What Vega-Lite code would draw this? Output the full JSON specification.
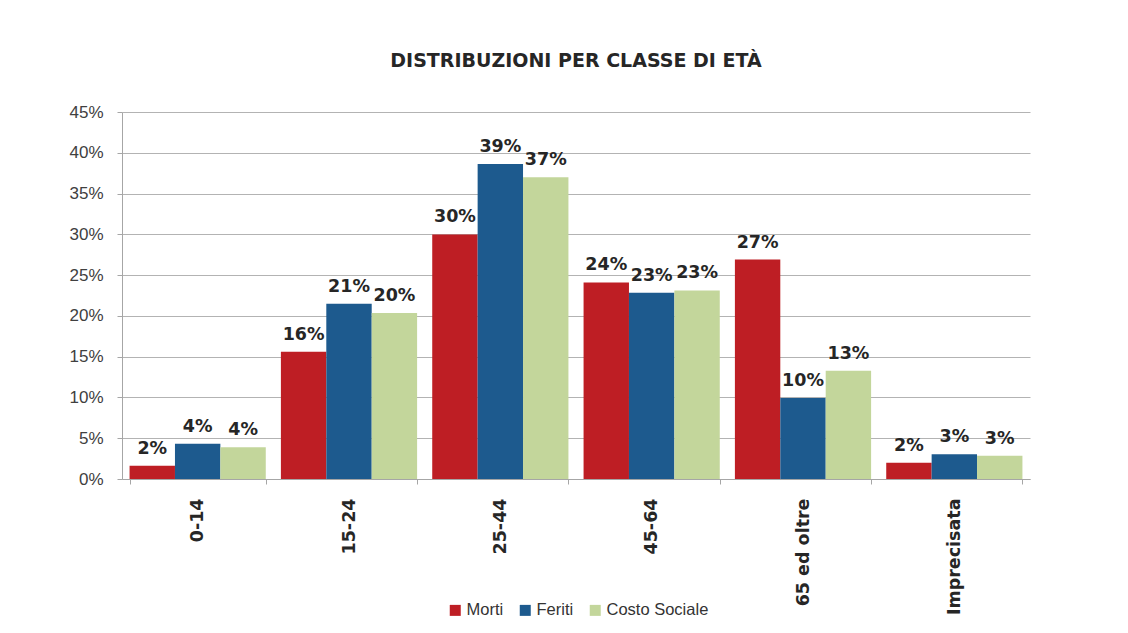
{
  "$schema": "https://vega.github.io/schema/vega-lite/v6.json",
  "autosize": "none",
  "width": 908,
  "height": 367,
  "padding": {"left": 122, "top": 112, "right": 98, "bottom": 154},
  "background": "white",
  "title": {
    "text": "DISTRIBUZIONI PER CLASSE DI ETÀ",
    "anchor": "middle",
    "font": "DejaVu Sans",
    "fontSize": 19,
    "fontWeight": "bold",
    "color": "#262626",
    "offset": 32
  },
  "config": {
    "view": {"stroke": null},
    "axis": {"domainColor": "#a6a6a6", "tickColor": "#a6a6a6", "gridColor": "#b3b3b3"}
  },
  "data": {
    "values": [
      {"classe": "0-14", "serie": "Morti", "valore": 0.0163},
      {"classe": "0-14", "serie": "Feriti", "valore": 0.0432},
      {"classe": "0-14", "serie": "Costo Sociale", "valore": 0.0388},
      {"classe": "15-24", "serie": "Morti", "valore": 0.156},
      {"classe": "15-24", "serie": "Feriti", "valore": 0.2149},
      {"classe": "15-24", "serie": "Costo Sociale", "valore": 0.2034},
      {"classe": "25-44", "serie": "Morti", "valore": 0.2998},
      {"classe": "25-44", "serie": "Feriti", "valore": 0.3863},
      {"classe": "25-44", "serie": "Costo Sociale", "valore": 0.370},
      {"classe": "45-64", "serie": "Morti", "valore": 0.241},
      {"classe": "45-64", "serie": "Feriti", "valore": 0.2283},
      {"classe": "45-64", "serie": "Costo Sociale", "valore": 0.2312},
      {"classe": "65 ed oltre", "serie": "Morti", "valore": 0.269},
      {"classe": "65 ed oltre", "serie": "Feriti", "valore": 0.0992},
      {"classe": "65 ed oltre", "serie": "Costo Sociale", "valore": 0.1327},
      {"classe": "Imprecisata", "serie": "Morti", "valore": 0.020},
      {"classe": "Imprecisata", "serie": "Feriti", "valore": 0.0303},
      {"classe": "Imprecisata", "serie": "Costo Sociale", "valore": 0.0286}
    ]
  },
  "encoding": {
    "x": {
      "field": "classe",
      "type": "nominal",
      "sort": ["0-14", "15-24", "25-44", "45-64", "65 ed oltre", "Imprecisata"],
      "scale": {"paddingInner": 0.1, "paddingOuter": 0.05},
      "axis": {
        "title": null,
        "labelAngle": -90,
        "labelAlign": "right",
        "labelBaseline": "middle",
        "labelFont": "DejaVu Sans",
        "labelFontSize": 17.5,
        "labelFontWeight": "bold",
        "labelColor": "#262626",
        "labelPadding": 14,
        "tickSize": 5,
        "tickBand": "extent",
        "domainColor": "#a6a6a6",
        "grid": false
      }
    },
    "xOffset": {
      "field": "serie",
      "type": "nominal",
      "sort": ["Morti", "Feriti", "Costo Sociale"]
    },
    "y": {
      "field": "valore",
      "type": "quantitative",
      "scale": {"domain": [0, 0.45], "nice": false},
      "axis": {
        "title": null,
        "values": [0, 0.05, 0.1, 0.15, 0.2, 0.25, 0.3, 0.35, 0.4, 0.45],
        "format": ".0%",
        "labelFont": "Liberation Sans",
        "labelFontSize": 17,
        "labelColor": "#404040",
        "labelPadding": 14,
        "tickSize": 5,
        "grid": true,
        "gridColor": "#b3b3b3",
        "domainColor": "#a6a6a6"
      }
    }
  },
  "layer": [
    {
      "mark": {"type": "bar"},
      "encoding": {
        "color": {
          "field": "serie",
          "type": "nominal",
          "scale": {
            "domain": ["Morti", "Feriti", "Costo Sociale"],
            "range": ["#be1e24", "#1d5a8e", "#c3d69b"]
          },
          "legend": {
            "title": null,
            "orient": "none",
            "direction": "horizontal",
            "legendX": 325,
            "legendY": 490,
            "symbolType": "square",
            "symbolSize": 121,
            "symbolStrokeWidth": 0,
            "labelFont": "Liberation Sans",
            "labelFontSize": 16.5,
            "labelColor": "#333333",
            "labelOffset": 3,
            "columnPadding": 13
          }
        }
      }
    },
    {
      "mark": {
        "type": "text",
        "baseline": "alphabetic",
        "dy": -12,
        "font": "DejaVu Sans",
        "fontSize": 17.5,
        "fontWeight": "bold",
        "color": "#262626"
      },
      "encoding": {
        "text": {"field": "valore", "type": "quantitative", "format": ".0%"}
      }
    }
  ]
}
